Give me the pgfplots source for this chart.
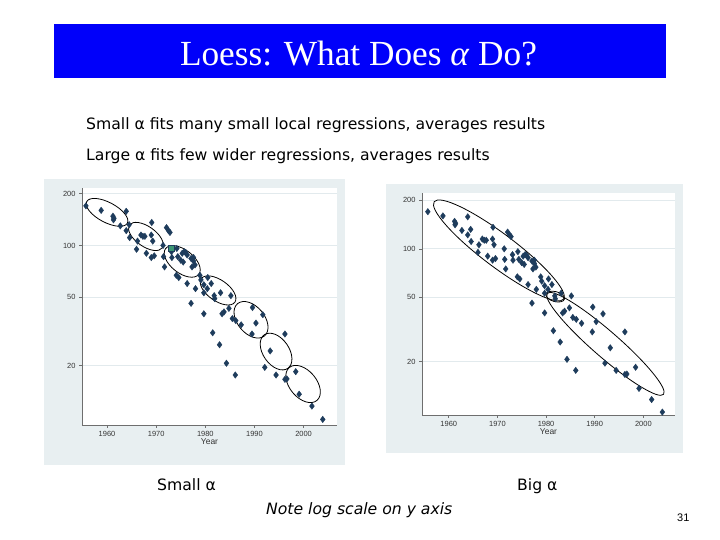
\documentclass[border=0pt]{standalone}
\usepackage{fontspec}
\setmainfont{DejaVu Sans}
\newfontfamily\titlefont{Liberation Serif}
\newfontfamily\tickfont{Liberation Sans}
\usepackage{pgfplots}
\pgfplotsset{compat=1.18}
\usepackage{pgfplotstable}
\usetikzlibrary{shapes.geometric}
\definecolor{slideblue}{RGB}{0,0,250}
\definecolor{panel}{RGB}{232,239,241}
\definecolor{gridc}{RGB}{226,234,237}
\definecolor{markc}{RGB}{30,60,92}
\definecolor{greenm}{RGB}{60,150,115}
\definecolor{axisc}{RGB}{110,110,110}

\pgfplotstableread{
year value
1955.7 170
1958.8 160
1961.2 148
1961.3 141
1961.4 144
1962.7 130
1963.9 158
1963.9 122
1964.5 132
1964.6 111
1966.0 95
1966.2 106
1966.9 115
1967.3 113
1967.7 113
1968.0 90
1969.1 136
1969.0 115
1969.3 106
1969.0 85
1969.6 87
1971.4 100
1971.5 86
1971.7 75
1972.1 127
1972.5 122
1972.8 119
1973.2 85
1973.1 92
1974.2 96
1974.1 67
1974.6 65
1974.4 86
1975.0 82
1975.3 90
1975.7 92
1976.0 91
1976.3 88
1975.5 80
1976.3 60
1977.1 46
1977.1 84
1977.3 75
1977.6 81
1977.6 85
1977.9 77
1978.0 56
1978.9 67
1979.1 63
1979.7 59
1979.7 53
1979.7 40
1980.4 56
1980.5 65
1981.2 60
1981.5 31
1981.8 51
1981.9 49
1983.1 53
1982.9 26.4
1983.4 40
1983.8 41
1984.3 20.6
1984.8 43
1985.2 51
1985.5 37.5
1986.1 17.6
1986.2 36.5
1987.3 34.5
1989.6 43.5
1989.5 30.5
1990.3 35.3
1991.7 39.5
1992.1 19.5
1993.2 24.3
1994.4 17.6
1996.2 30.5
1996.2 16.6
1996.6 16.7
1998.4 18.4
1999.1 13.6
2001.7 11.6
2003.9 9.7
}\datatable

\pgfplotsset{
  statastyle/.style={
    scale only axis,
    axis x line*=bottom,
    axis y line*=left,
    axis line style={axisc, line width=1pt, -},
    xtick={1960,1970,1980,1990,2000},
    xticklabels={1960,1970,1980,1990,2000},
    ytick={20,50,100,200},
    yticklabels={20,50,100,200},
    yminorticks=false,
    tick align=outside,
    major tick length=3bp,
    tick style={axisc, line width=0.6pt},
    tick label style={font=\tickfont\fontsize{7.5}{8}\selectfont, text=black!80},
    xlabel={Year},
    xlabel style={font=\tickfont\fontsize{8.5}{9}\selectfont, text=black!80, yshift=5bp},
    ymajorgrids,
    grid style={gridc, line width=1.2pt},
    axis background/.style={fill=white},
    clip=false,
  },
}
\tikzset{ell/.style={draw=black, line width=0.8pt, ellipse, inner sep=0pt, fill=none}}

\begin{document}
\begin{tikzpicture}
\fill[white] (0,0) rectangle (720bp,-540bp);
\useasboundingbox (0,0) rectangle (720bp,-540bp);
% title bar
\fill[slideblue] (54bp,-24bp) rectangle (666bp,-78bp);
\node[anchor=base, text=white, font=\titlefont\fontsize{35.4}{38}\selectfont, inner sep=0pt] at (358.5bp,-65bp) {Loess: What Does \textit{α} Do?};
% body text
\node[anchor=base west, inner sep=0pt, font=\fontsize{15.7}{17}\selectfont] at (86bp,-129bp) {Small α fits many small local regressions, averages results};
\node[anchor=base west, inner sep=0pt, font=\fontsize{15.7}{17}\selectfont] at (86bp,-160bp) {Large α fits few wider regressions, averages results};
% panels
\fill[panel] (44bp,-179bp) rectangle (345bp,-465bp);
\fill[panel] (386bp,-184bp) rectangle (683bp,-453bp);

% left plot
\begin{axis}[ymode=log, statastyle, at={(82bp,-425bp)}, anchor=south west,
  width=255bp, height=237bp,
  xmin=1954.9, xmax=2006.8, ymin=9, ymax=216]
\addplot[only marks, mark=diamond*, mark size=3.2bp, mark options={fill=markc, draw=markc}] table[x=year, y=value] {\datatable};
\addplot[only marks, mark=square*, mark size=3.2bp, mark options={fill=greenm, draw=markc}] coordinates {(1973.0,96)};
\node[ell, minimum width=46bp, minimum height=20bp, rotate=-28] at (axis cs:1960.0,155.8) {};
\node[ell, minimum width=40bp, minimum height=20bp, rotate=-35] at (axis cs:1967.9,112.8) {};
\node[ell, minimum width=42bp, minimum height=23bp, rotate=-38] at (axis cs:1975.3,80.7) {};
\node[ell, minimum width=41bp, minimum height=21bp, rotate=-35] at (axis cs:1982.6,54.7) {};
\node[ell, minimum width=42bp, minimum height=27bp, rotate=-50] at (axis cs:1989.3,36.9) {};
\node[ell, minimum width=41bp, minimum height=26bp, rotate=-55] at (axis cs:1994.4,24.1) {};
\node[ell, minimum width=43bp, minimum height=27bp, rotate=-50] at (axis cs:1999.9,15.6) {};
\end{axis}

% right plot
\begin{axis}[ymode=log, statastyle, at={(422bp,-415bp)}, anchor=south west,
  width=253bp, height=222bp,
  xmin=1954.5, xmax=2006.5, ymin=9.3, ymax=222]
\addplot[only marks, mark=diamond*, mark size=3.2bp, mark options={fill=markc, draw=markc}] table[x=year, y=value] {\datatable};
\node[ell, minimum width=162bp, minimum height=33bp, rotate=-37] at (axis cs:1970.3,97.7) {};
\node[ell, minimum width=154bp, minimum height=26bp, rotate=-41] at (axis cs:1992.2,25.7) {};
\node[ell, minimum width=19bp, minimum height=10bp, rotate=-15] at (axis cs:1981.9,50.5) {};
\end{axis}

% bottom text
\node[anchor=base west, inner sep=0pt, font=\fontsize{15.7}{17}\selectfont] at (157bp,-490bp) {Small α};
\node[anchor=base west, inner sep=0pt, font=\fontsize{15.7}{17}\selectfont] at (517bp,-490bp) {Big α};
\node[anchor=base west, inner sep=0pt, font=\fontsize{15.7}{17}\selectfont\itshape] at (266bp,-514bp) {Note log scale on y axis};
\node[anchor=base west, inner sep=0pt, font=\tickfont\fontsize{11}{12}\selectfont] at (677bp,-521bp) {31};
\end{tikzpicture}
\end{document}
